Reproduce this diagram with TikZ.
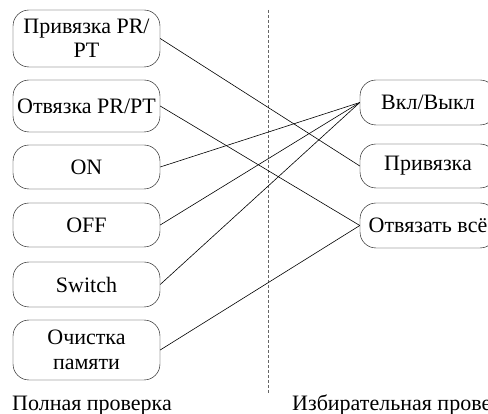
\documentclass[tikz,border=0pt]{standalone}
\usepackage{fontspec}
\setmainfont{Liberation Serif}
\usetikzlibrary{calc}
\tikzset{
  cmdbox/.style={draw, rounded corners=16pt, minimum width=147pt, align=center, inner sep=0pt, font=\fontsize{22}{24.5}\selectfont},
  actbox/.style={cmdbox, minimum width=136pt},
  link/.style={line width=0.6pt}
}

\begin{document}
\begin{tikzpicture}[x=1pt, y=-1pt]
			%%%%% START %%%%%
			\useasboundingbox (0, 0) rectangle (488, 414);
			\clip (0, 0) rectangle (488, 414);
			
			% left column
			\node[cmdbox, minimum height=57pt] (bindpr) at (86.5, 38.5) {Привязка PR/\\PT};
			\node[cmdbox, minimum height=52pt] (unbindpr) at (86.5, 106) {Отвязка PR/PT};
			\node[cmdbox, minimum height=44pt] (on) at (86.5, 167) {ON};
			\node[cmdbox, minimum height=44pt] (off) at (86.5, 225) {OFF};
			\node[cmdbox, minimum height=45pt] (switch) at (86.5, 284.5) {Switch};
			\node[cmdbox, minimum height=60pt] (clear) at (86.5, 350) {Очистка\\памяти};
			
			% right column
			\node[actbox, minimum height=45pt] (onoff) at (428, 102.5) {Вкл/Выкл};
			\node[actbox, minimum height=44pt] (bind) at (428, 166) {Привязка};
			\node[actbox, minimum height=45pt] (unbindall) at (428, 225.5) {Отвязать всё};
			
			% separator
			\coordinate (septop) at (268, 10);
			\coordinate (sepbot) at (268, 393);
			\draw[densely dashed, color=black!60, line width=0.6pt] (septop) -- (sepbot);
			
			\draw[link] (bindpr.east) -- (bind.west);
			\draw[link] (unbindpr.east) -- (unbindall.west);
			\draw[link] (on.east) -- (onoff.west);
			\draw[link] (off.east) -- (onoff.west);
			\draw[link] (switch.east) -- (onoff.west);
			\draw[link] (clear.east) -- (unbindall.west);
			
			\node[anchor=base, font=\fontsize{22}{24.5}\selectfont] (full) at (92, 411) {Полная проверка};
			\node[anchor=base west, inner sep=0pt, font=\fontsize{22}{24.5}\selectfont] (select) at (292, 411) {Избирательная проверка};
			%%%%% END %%%%%
\end{tikzpicture}
\end{document}
